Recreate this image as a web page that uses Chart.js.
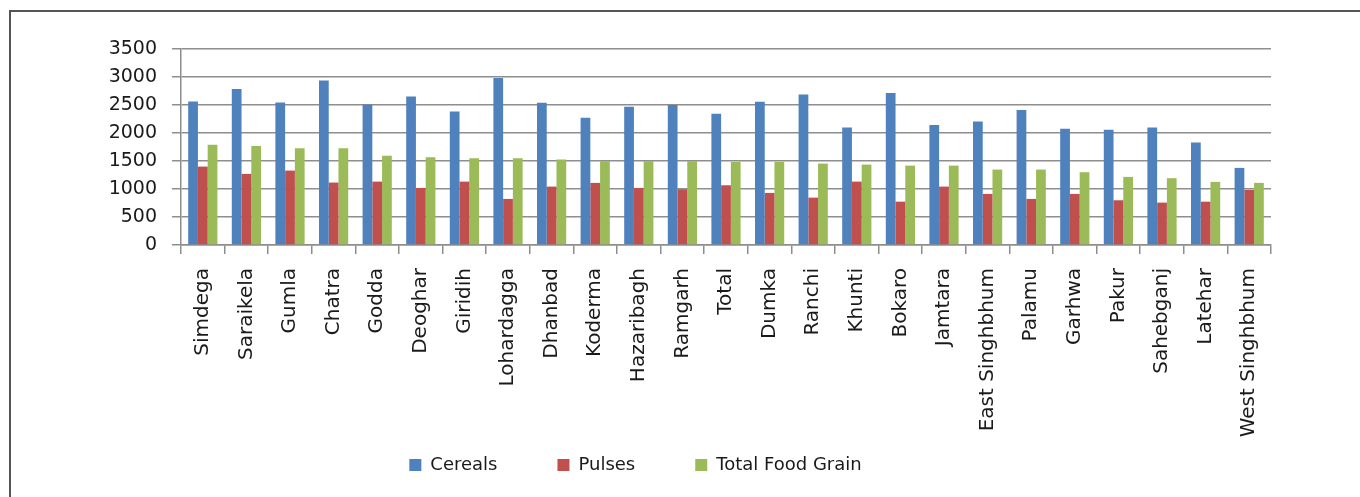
<!DOCTYPE html>
<html>
<head>
<meta charset="utf-8">
<script src="https://cdn.jsdelivr.net/npm/chart.js@4"></script>
<style>
    html, body { margin: 0; padding: 0; background: #fff; }
    #wrap { position: relative; width: 1360px; height: 497px; overflow: hidden; }
    #frame { position: absolute; left: 9px; top: 10px; width: 1400px; height: 600px;
             border-top: 2px solid #555; border-left: 2px solid #555; }
    #box { position: absolute; left: 0; top: 0; width: 1360px; height: 497px; }
</style>
</head>
<body>
<div id="wrap">
    <div id="frame"></div>
    <div id="box"><canvas id="FoodGrainChart"></canvas></div>
</div>
<script>
const districts = ['Simdega', 'Saraikela', 'Gumla', 'Chatra', 'Godda', 'Deoghar', 'Giridih', 'Lohardagga',
    'Dhanbad', 'Koderma', 'Hazaribagh', 'Ramgarh', 'Total', 'Dumka', 'Ranchi', 'Khunti', 'Bokaro',
    'Jamtara', 'East Singhbhum', 'Palamu', 'Garhwa', 'Pakur', 'Sahebganj', 'Latehar', 'West Singhbhum'];

const cereals = [2563, 2784, 2545, 2939, 2510, 2652, 2384, 2981, 2540, 2271, 2468, 2498, 2343,
    2557, 2688, 2098, 2713, 2141, 2205, 2409, 2075, 2057, 2098, 1830, 1377];

const pulses = [1400, 1270, 1329, 1115, 1132, 1019, 1132, 823, 1043, 1109, 1019, 996, 1067,
    930, 846, 1132, 774, 1043, 912, 823, 912, 799, 757, 774, 984];

const totalFoodGrain = [1788, 1770, 1729, 1729, 1592, 1568, 1550, 1550, 1526, 1497, 1497, 1497, 1484,
    1484, 1454, 1436, 1418, 1418, 1347, 1347, 1300, 1216, 1193, 1127, 1109];

const yTicks = [0, 500, 1000, 1500, 2000, 2500, 3000, 3500];

const gridColor = '#8e8e8e';

// the legend needs wide gaps between items, but that padding also pushes it down; stretch its box up
const legendLift = {
    id: 'legendLift',
    afterLayout(chart) {
        chart.legend.top -= 54;
    }
};

const ctx = document.getElementById('FoodGrainChart').getContext('2d');

const data = {
    labels: districts,
    datasets: [
        { label: 'Cereals', data: cereals, backgroundColor: '#4F81BD' },
        { label: 'Pulses', data: pulses, backgroundColor: '#C0504D' },
        { label: 'Total Food Grain', data: totalFoodGrain, backgroundColor: '#9BBB59' }
    ]
};

const config = {
    type: 'bar',
    data: data,
    plugins: [legendLift],
    options: {
        responsive: true,
        maintainAspectRatio: false,
        animation: false,
        categoryPercentage: 0.67,
        barPercentage: 1.0,
        layout: {
            padding: { left: 0, right: 89, top: 49, bottom: 15 }
        },
        scales: {
            x: {
                grid: {
                    display: true,
                    drawOnChartArea: false,
                    drawTicks: true,
                    tickLength: 9,
                    color: gridColor,
                    lineWidth: 1.5
                },
                border: { display: true, color: gridColor, width: 1.5 },
                ticks: {
                    autoSkip: false,
                    minRotation: 90,
                    maxRotation: 90,
                    padding: 14,
                    color: '#1a1a1a',
                    font: { size: 20, family: 'DejaVu Sans' }
                },
                afterFit: function (scale) { scale.height = 205; }
            },
            y: {
                min: 0,
                max: 3500,
                afterBuildTicks: function (scale) {
                    scale.ticks = yTicks.map(v => ({ value: v }));
                },
                grid: {
                    color: gridColor,
                    lineWidth: 1.5,
                    tickLength: 9
                },
                border: { display: true, color: gridColor, width: 1.5 },
                ticks: {
                    padding: 15,
                    color: '#1a1a1a',
                    font: { size: 19, family: 'DejaVu Sans' },
                    callback: function (value) { return String(value); }
                },
                afterFit: function (scale) { scale.width = 181; }
            }
        },
        plugins: {
            legend: {
                position: 'bottom',
                maxHeight: 32,
                labels: {
                    boxWidth: 12,
                    boxHeight: 12,
                    padding: 60,
                    color: '#1a1a1a',
                    font: { size: 18, family: 'DejaVu Sans' }
                }
            },
            tooltip: { enabled: false }
        }
    }
};

const myChart = new Chart(ctx, config);
</script>
</body>
</html>
